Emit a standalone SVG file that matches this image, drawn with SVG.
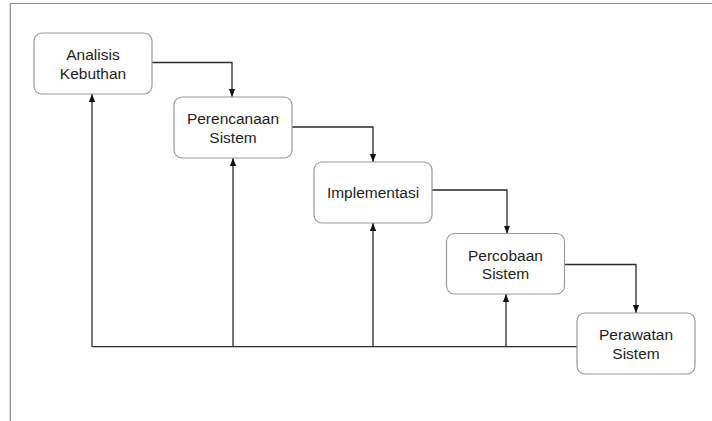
<svg xmlns="http://www.w3.org/2000/svg" width="712" height="421" viewBox="0 0 712 421">
<defs>
<marker id="ah" markerWidth="8" markerHeight="10" refX="9" refY="3.5" viewBox="0 0 9 7" markerUnits="userSpaceOnUse" orient="auto">
<path d="M0 0 L9 3.5 L0 7 Z" fill="#111"/>
</marker>
<style>
.box{fill:#fff;stroke:#9a9a9a;stroke-width:1.2}
.t{font-family:"Liberation Sans",Arial,sans-serif;font-size:15.5px;fill:#1e1e1e;text-anchor:middle}
.c{fill:none;stroke:#2a2a2a;stroke-width:1.3}
.ca{fill:none;stroke:#2a2a2a;stroke-width:1.3;marker-end:url(#ah)}
.frame{fill:none;stroke:#8a8a8a;stroke-width:1.2}
</style>
</defs>
<rect width="712" height="421" fill="#fff"/>
<path class="frame" d="M712 3.5 H10.3 V421"/>
<g id="connectors">
<path class="ca" d="M152 62.5 H232 V97"/>
<path class="ca" d="M292 127 H373 V162"/>
<path class="ca" d="M432 190 H507 V233.5"/>
<path class="ca" d="M564.5 264.5 H636 V313"/>
<path class="c" d="M577 346.7 H92"/>
<path class="ca" d="M92 346.7 V94"/>
<path class="ca" d="M233 346.7 V158"/>
<path class="ca" d="M373 346.7 V223"/>
<path class="ca" d="M506 346.7 V294"/>
</g>
<g id="analisis">
<rect class="box" x="34" y="33" width="118" height="61" rx="8"/>
<text class="t" x="93" y="60">Analisis</text>
<text class="t" x="93" y="79">Kebuthan</text>
</g>
<g id="perencanaan">
<rect class="box" x="174" y="97" width="118" height="61" rx="8"/>
<text class="t" x="233" y="124">Perencanaan</text>
<text class="t" x="233" y="143">Sistem</text>
</g>
<g id="implementasi">
<rect class="box" x="314" y="162" width="118" height="61" rx="8"/>
<text class="t" x="373" y="198.3">Implementasi</text>
</g>
<g id="percobaan">
<rect class="box" x="446.5" y="233.5" width="118" height="60.5" rx="8"/>
<text class="t" x="505.5" y="260.7">Percobaan</text>
<text class="t" x="505.5" y="279.2">Sistem</text>
</g>
<g id="perawatan">
<rect class="box" x="577" y="313" width="118" height="61" rx="8"/>
<text class="t" x="636" y="340">Perawatan</text>
<text class="t" x="636" y="358.5">Sistem</text>
</g>
</svg>
